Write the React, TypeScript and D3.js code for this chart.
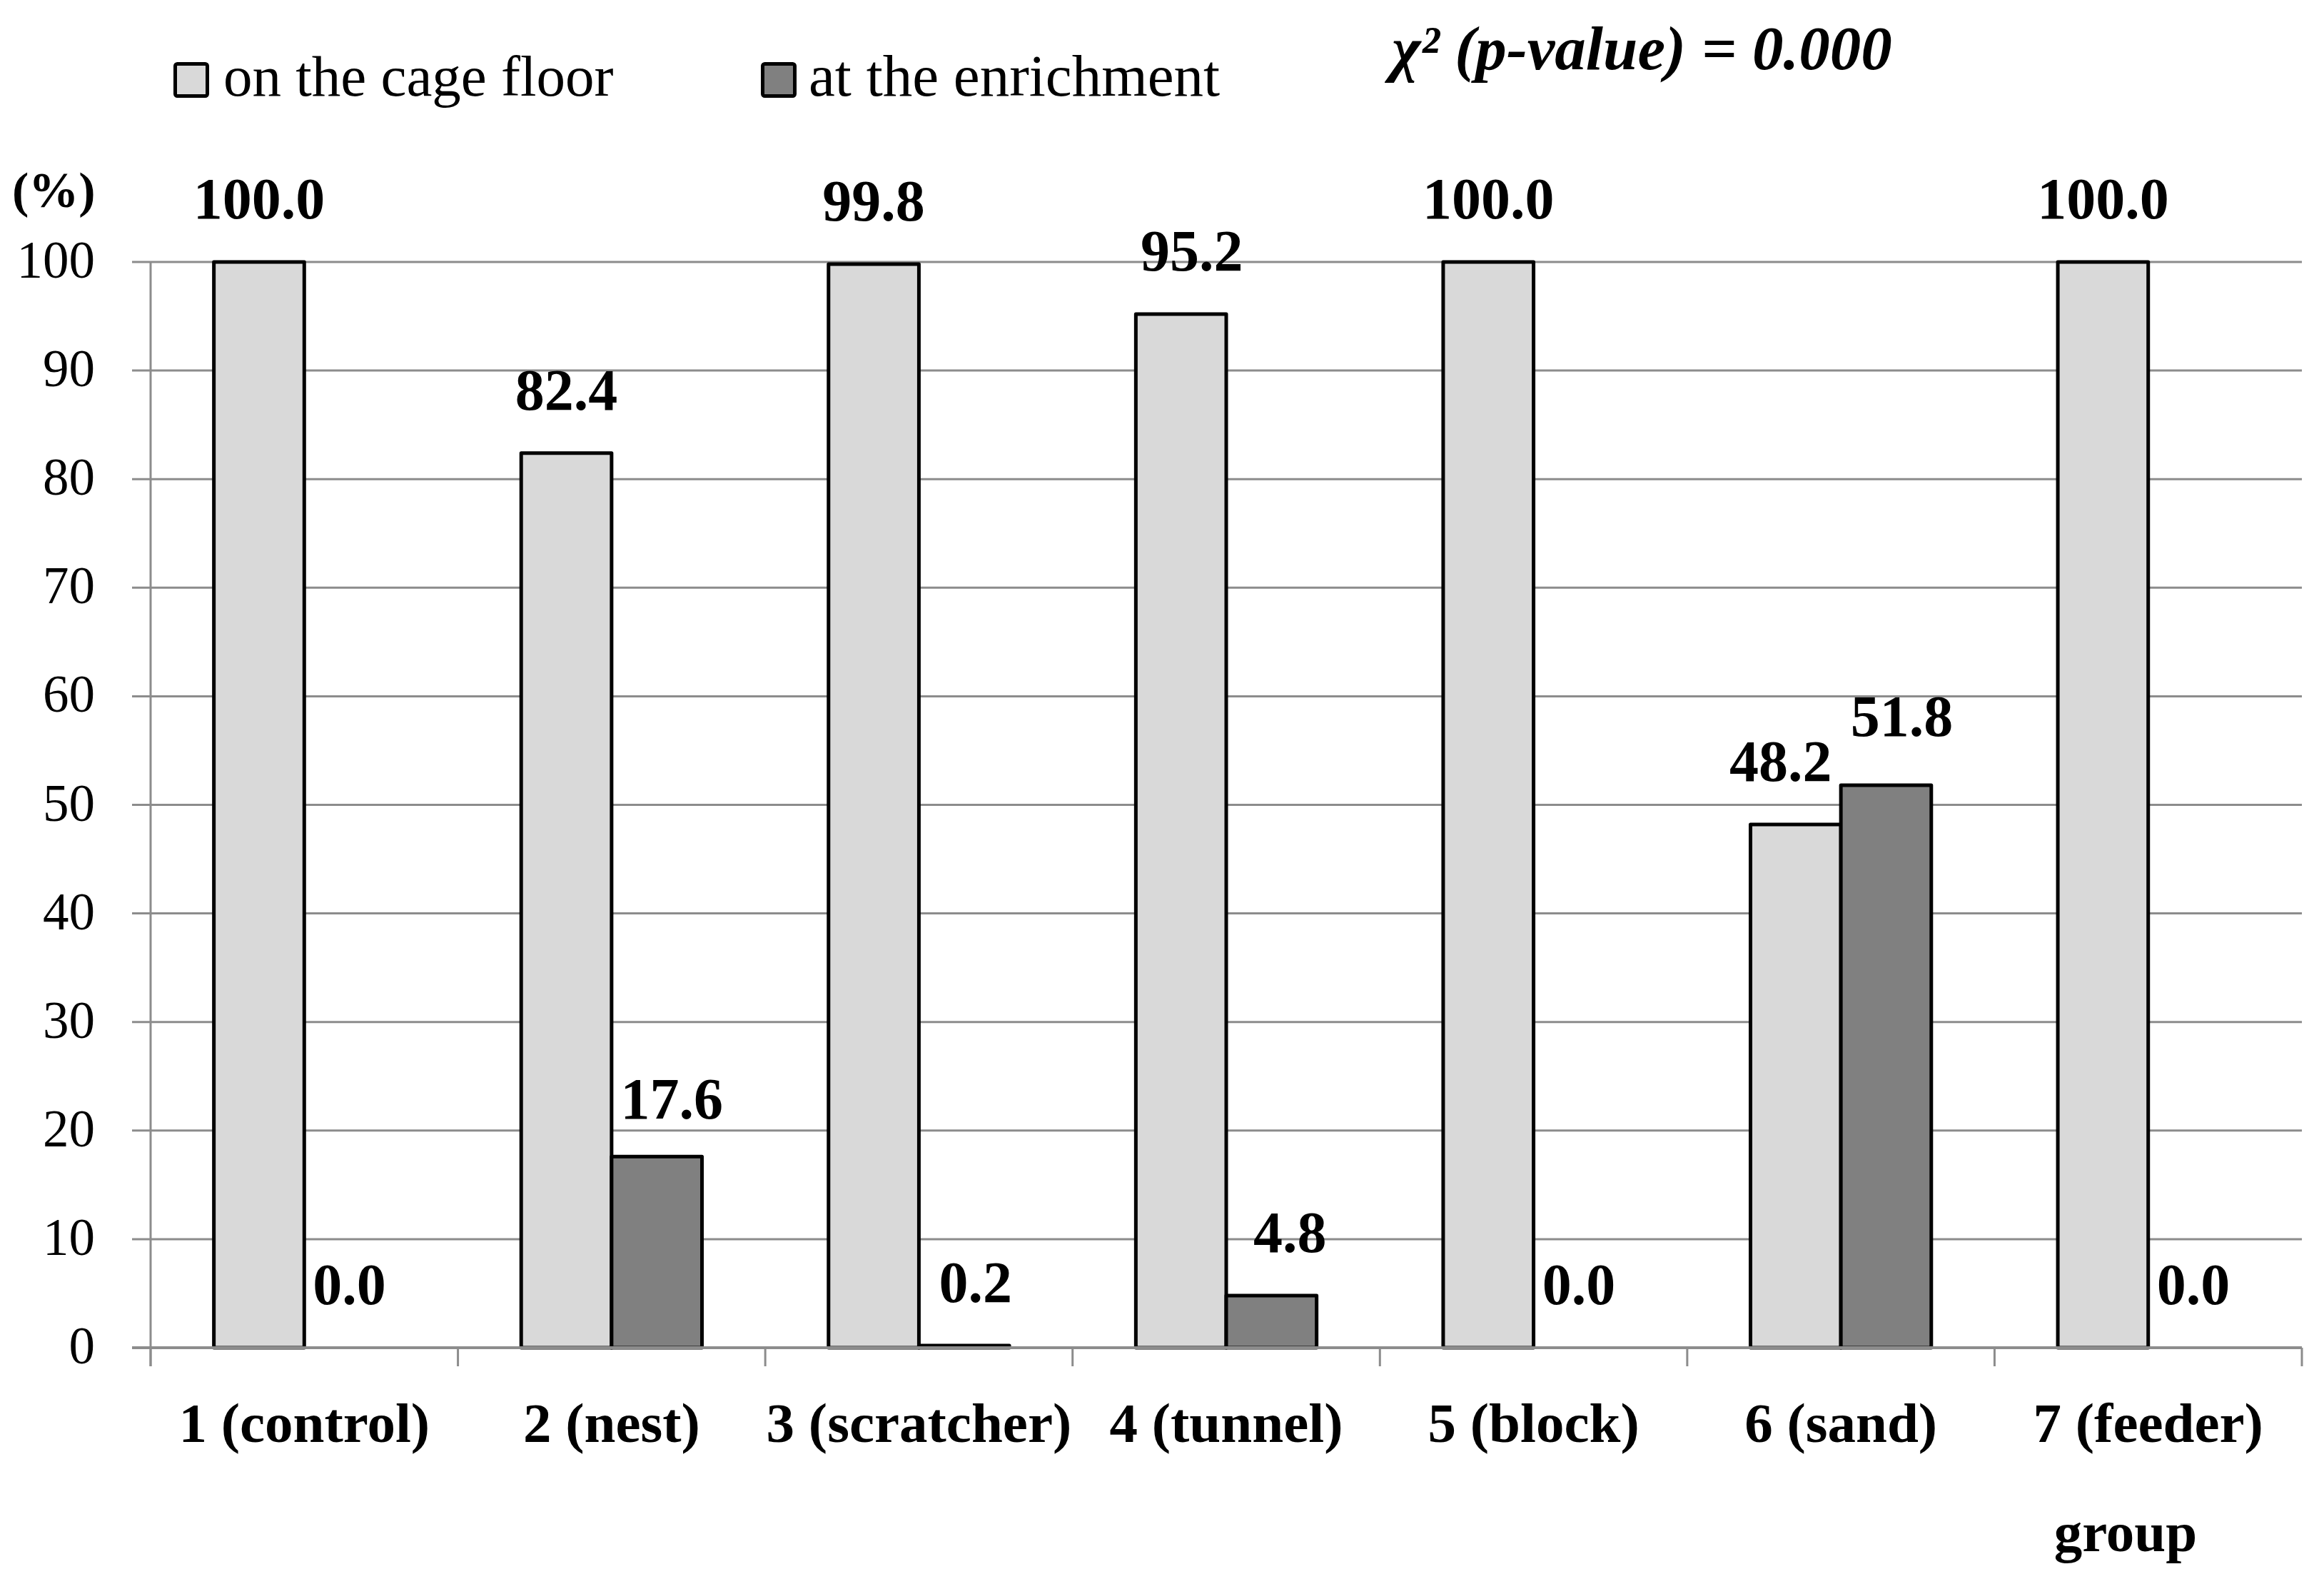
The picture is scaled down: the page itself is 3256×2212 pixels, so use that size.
import React from "react";
import * as d3 from "d3";

const categories = ["1 (control)", "2 (nest)", "3 (scratcher)", "4 (tunnel)", "5 (block)", "6 (sand)", "7 (feeder)"];
const floorValues = [100.0, 82.4, 99.8, 95.2, 100.0, 48.2, 100.0];
const enrichValues = [0.0, 17.6, 0.2, 4.8, 0.0, 51.8, 0.0];
const yTicks = [0, 10, 20, 30, 40, 50, 60, 70, 80, 90, 100];
const seriesNames = ["on the cage floor", "at the enrichment"];

// label nudges (layout, px)
const floorNudgeX = [0, 0, 0, 15, 0, -21, 0];
const floorNudgeY = [0, 0, 0, 0, 0, 0, 0];
const enrichNudgeX = [0, 21, 16, 26, 0, 22, 0];
const enrichNudgeY = [0, 8, 0, 0, 0, -8, 0];

const W = 3256;
const H = 2212;
const LEFT = 211;
const RIGHT = 3225;
const TOP = 367;
const BOTTOM = 1888;
const FONT = "'Liberation Serif', 'Times New Roman', serif";
const LIGHT = "#d9d9d9";
const DARK = "#808080";
const GRID = "#8c8c8c";

export default function App() {
  const x = d3.scaleBand<string>().domain(categories).range([LEFT, RIGHT]).paddingInner(0).paddingOuter(0);
  const y = d3.scaleLinear().domain([0, 100]).range([BOTTOM, TOP]);
  const bw = x.bandwidth() / 3.4;
  const labelGap = 61;
  const boundaries = d3.range(categories.length + 1).map((i) => LEFT + i * x.bandwidth());

  return (
    <svg width={W} height={H} viewBox={`0 0 ${W} ${H}`} style={{ position: "absolute", left: 0, top: 0, background: "#fff" }} fontFamily={FONT}>
      <rect x={0} y={0} width={W} height={H} fill="#fff" />
      {/* gridlines */}
      {yTicks.filter((t) => t > 0).map((t) => (
        <line key={t} x1={185} x2={RIGHT} y1={y(t)} y2={y(t)} stroke={GRID} strokeWidth={3} />
      ))}
      {/* y tick labels */}
      {yTicks.map((t) => (
        <text key={t} x={133} y={y(t) + 22} fontSize={73} textAnchor="end" fill="#000">{t}</text>
      ))}
      <text x={17} y={290} fontSize={70} fontWeight="bold" fill="#000">(%)</text>
      {/* vertical axis */}
      <line x1={LEFT} x2={LEFT} y1={TOP} y2={BOTTOM + 26} stroke={GRID} strokeWidth={3} />
      {/* bars */}
      {categories.map((c, i) => {
        const cx = (x(c) as number) + x.bandwidth() / 2;
        return (
          <g key={c}>
            <rect x={cx - bw} y={y(floorValues[i])} width={bw} height={BOTTOM - y(floorValues[i])} fill={LIGHT} stroke="#000" strokeWidth={5} strokeLinejoin="round" />
            {enrichValues[i] > 0 && (
              <rect x={cx} y={y(enrichValues[i])} width={bw} height={BOTTOM - y(enrichValues[i])} fill={DARK} stroke="#000" strokeWidth={5} strokeLinejoin="round" />
            )}
          </g>
        );
      })}
      {/* x axis line and ticks */}
      <line x1={185} x2={RIGHT} y1={BOTTOM} y2={BOTTOM} stroke={GRID} strokeWidth={4} />
      {boundaries.map((b, i) => (
        <line key={i} x1={b} x2={b} y1={BOTTOM} y2={BOTTOM + 26} stroke={GRID} strokeWidth={3} />
      ))}
      {/* data labels */}
      {categories.map((c, i) => {
        const cx = (x(c) as number) + x.bandwidth() / 2;
        return (
          <g key={"l" + c} fontSize={82} fontWeight="bold" textAnchor="middle" fill="#000">
            <text x={cx - bw / 2 + floorNudgeX[i]} y={y(floorValues[i]) - labelGap + floorNudgeY[i]}>{floorValues[i].toFixed(1)}</text>
            <text x={cx + bw / 2 + enrichNudgeX[i]} y={y(enrichValues[i]) - labelGap + enrichNudgeY[i]}>{enrichValues[i].toFixed(1)}</text>
          </g>
        );
      })}
      {/* category labels */}
      {categories.map((c) => (
        <text key={"c" + c} x={(x(c) as number) + x.bandwidth() / 2} y={2020} fontSize={79} fontWeight="bold" textAnchor="middle" fill="#000">{c}</text>
      ))}
      <text x={2978} y={2173} fontSize={79} fontWeight="bold" textAnchor="middle" fill="#000">group</text>
      {/* legend */}
      <rect x={245.5} y={89.5} width={45} height={45} rx={3} fill={LIGHT} stroke="#000" strokeWidth={5} />
      <text x={313} y={134} fontSize={81} fill="#000">{seriesNames[0]}</text>
      <rect x={1068.5} y={89.5} width={45} height={45} rx={3} fill={DARK} stroke="#000" strokeWidth={5} />
      <text x={1133} y={134} fontSize={83} fill="#000">{seriesNames[1]}</text>
      <text x={1950} y={97} fontSize={87} fontWeight="bold" fontStyle="italic" fill="#000">χ² (p-value) = 0.000</text>
    </svg>
  );
}
